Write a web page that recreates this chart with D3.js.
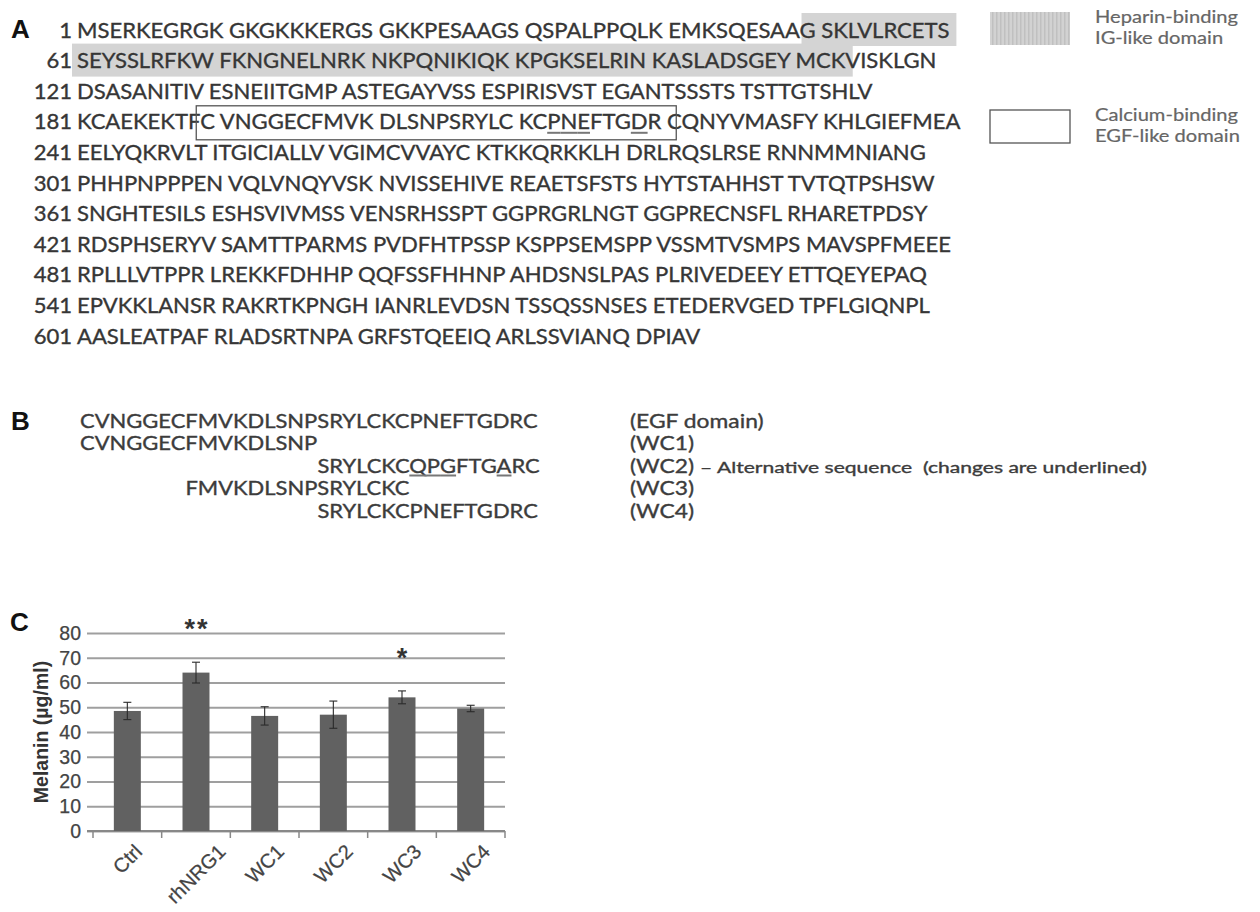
<!DOCTYPE html>
<html>
<head>
<meta charset="utf-8">
<script src="https://cdn.jsdelivr.net/npm/d3@7"></script>
<style>
  html, body { margin: 0; padding: 0; background: #fff; }
  svg { display: block; }
</style>
</head>
<body>
<svg id="fig" width="1260" height="912"></svg>
<script>
// ---------- Panel A: NRG1 protein sequence ----------
const seqStarts = [1, 61, 121, 181, 241, 301, 361, 421, 481, 541, 601];
const seqRows = [
  "MSERKEGRGK GKGKKKERGS GKKPESAAGS QSPALPPQLK EMKSQESAAG SKLVLRCETS",
  "SEYSSLRFKW FKNGNELNRK NKPQNIKIQK KPGKSELRIN KASLADSGEY MCKVISKLGN",
  "DSASANITIV ESNEIITGMP ASTEGAYVSS ESPIRISVST EGANTSSSTS TSTTGTSHLV",
  "KCAEKEKTFC VNGGECFMVK DLSNPSRYLC KCPNEFTGDR CQNYVMASFY KHLGIEFMEA",
  "EELYQKRVLT ITGICIALLV VGIMCVVAYC KTKKQRKKLH DRLRQSLRSE RNNMMNIANG",
  "PHHPNPPPEN VQLVNQYVSK NVISSEHIVE REAETSFSTS HYTSTAHHST TVTQTPSHSW",
  "SNGHTESILS ESHSVIVMSS VENSRHSSPT GGPRGRLNGT GGPRECNSFL RHARETPDSY",
  "RDSPHSERYV SAMTTPARMS PVDFHTPSSP KSPPSEMSPP VSSMTVSMPS MAVSPFMEEE",
  "RPLLLVTPPR LREKKFDHHP QQFSSFHHNP AHDSNSLPAS PLRIVEDEEY ETTQEYEPAQ",
  "EPVKKLANSR RAKRTKPNGH IANRLEVDSN TSSQSSNSES ETEDERVGED TPFLGIQNPL",
  "AASLEATPAF RLADSRTNPA GRFSTQEEIQ ARLSSVIANQ DPIAV"
];
const igDomain = [50, 114];          // heparin-binding Ig-like region (residues)
const egfDomain = [190, 221];        // calcium-binding EGF-like region (residues)
const egfUnderlined = [213, 214, 215, 219];
const legendItems = [
  { kind: "ig",  lines: ["Heparin-binding", "IG-like domain"] },
  { kind: "egf", lines: ["Calcium-binding", "EGF-like domain"] }
];

// ---------- Panel B: EGF-derived peptides ----------
const egfSeq = "CVNGGECFMVKDLSNPSRYLCKCPNEFTGDRC";
const peptides = [
  { seq: "CVNGGECFMVKDLSNPSRYLCKCPNEFTGDRC", offset: 0,  label: "(EGF domain)", note: "", marks: [] },
  { seq: "CVNGGECFMVKDLSNP",                 offset: 0,  label: "(WC1)", note: "", marks: [] },
  { seq: "SRYLCKCQPGFTGARC",                 offset: 16, label: "(WC2)", note: "\u2013 Alternative sequence  (changes are underlined)", marks: [7, 8, 9, 13] },
  { seq: "FMVKDLSNPSRYLCKC",                 offset: 7,  label: "(WC3)", note: "", marks: [] },
  { seq: "SRYLCKCPNEFTGDRC",                 offset: 16, label: "(WC4)", note: "", marks: [] }
];

// ---------- Panel C: melanin content ----------
const groups = ["Ctrl", "rhNRG1", "WC1", "WC2", "WC3", "WC4"];
const melanin = [48.5, 64, 46.5, 47, 54, 49.5];
const melaninErr = [3.5, 4.2, 3.7, 5.5, 2.6, 1.3];
const signif = ["", "**", "", "", "*", ""];
const yTicks = [0, 10, 20, 30, 40, 50, 60, 70, 80];

const svg = d3.select("#fig");
const SEQ_FONT = "Lato, 'Open Sans', 'Noto Sans', sans-serif";
const ARIAL = "'Liberation Sans', Arial, sans-serif";
const INK = "#363636";

// textures
const defs = svg.append("defs");
const pat = defs.append("pattern").attr("id", "vstripe")
  .attr("patternUnits", "userSpaceOnUse").attr("width", 4).attr("height", 4);
pat.append("rect").attr("width", 4).attr("height", 4).attr("fill", "#d2d2d2");
pat.append("rect").attr("width", 1.5).attr("height", 4).attr("fill", "#c0c0c0");

// panel letters
function panelLetter(t, x, y) {
  svg.append("text").attr("x", x).attr("y", y).text(t)
    .attr("font-family", ARIAL).attr("font-weight", "bold")
    .attr("font-size", 26).attr("fill", "#111");
}
panelLetter("A", 11, 38);
panelLetter("B", 11, 430);
panelLetter("C", 10, 631);

// sequence text helper: slightly heavier strokes
function seqText(sel, size, fill) {
  return sel.attr("font-family", SEQ_FONT).attr("font-size", size)
    .attr("fill", fill).attr("stroke", fill).attr("stroke-width", 0.35);
}

// ===== Panel A =====
const seqX = 77, numX = 72, rowY0 = 30, rowStep = 30.6, seqSize = 21;
const hlLayer = svg.append("g");
const rowLayer = svg.append("g");
const boxLayer = svg.append("g");

// measure a reference row to set the horizontal scale of the sequence font
const probe = rowLayer.append("text").attr("font-family", SEQ_FONT).attr("font-size", seqSize).text(seqRows[0]);
const sxA = (950 - seqX) / probe.node().getComputedTextLength();
probe.remove();

const rowEls = seqRows.map((s, i) => {
  const cy = rowY0 + i * rowStep;
  const g = rowLayer.append("g").attr("transform", `translate(0,${cy + 7.5})`);
  seqText(g.append("text"), seqSize, INK)
    .attr("transform", `translate(${numX},0) scale(${sxA},1)`)
    .attr("text-anchor", "end")
    .text(seqStarts[i]);
  const t = seqText(g.append("text"), seqSize, INK)
    .attr("transform", `translate(${seqX},0) scale(${sxA},1)`)
    .style("white-space", "pre")
    .text(s);
  return { el: t.node(), cy, len: s.length };
});

function rowOf(res) { return seqStarts.findIndex((s, i) => res >= s && (i === seqStarts.length - 1 || res < seqStarts[i + 1])); }
function strIndex(res, r) { const k = res - seqStarts[r]; return k + Math.floor(k / 10); }
function xAt(r, idx) {
  const row = rowEls[r];
  return seqX + sxA * (idx <= 0 ? 0 : row.el.getSubStringLength(0, Math.min(idx, row.len)));
}
function resLeft(res) { const r = rowOf(res); return xAt(r, strIndex(res, r)); }
function resRight(res) { const r = rowOf(res); return xAt(r, strIndex(res, r) + 1); }

// Ig-like domain highlight, row by row
(function () {
  const r0 = rowOf(igDomain[0]), r1 = rowOf(igDomain[1]);
  for (let r = r0; r <= r1; r++) {
    const x0 = r === r0 ? resLeft(igDomain[0]) + 2 : seqX - 5;
    const x1 = r === r1 ? (resLeft(igDomain[1]) + resRight(igDomain[1])) / 2 : xAt(r, rowEls[r].len) + 7;
    hlLayer.append("rect")
      .attr("x", x0).attr("y", rowEls[r].cy - 17)
      .attr("width", x1 - x0).attr("height", 33)
      .attr("fill", "#d4d4d4");
  }
})();

// EGF-like domain box
(function () {
  const r = rowOf(egfDomain[0]);
  const x0 = resLeft(egfDomain[0]) - 4;
  const x1 = (resLeft(egfDomain[1]) + resRight(egfDomain[1])) / 2 + 2;
  boxLayer.append("rect")
    .attr("x", x0).attr("y", rowEls[r].cy - 16)
    .attr("width", x1 - x0).attr("height", 34)
    .attr("fill", "none").attr("stroke", "#555").attr("stroke-width", 1.3);
  egfUnderlined.forEach(res => {
    boxLayer.append("line")
      .attr("x1", resLeft(res)).attr("x2", resRight(res))
      .attr("y1", rowEls[r].cy + 11).attr("y2", rowEls[r].cy + 11)
      .attr("stroke", "#777").attr("stroke-width", 2);
  });
})();

// legend
(function () {
  const lg = svg.append("g");
  const probeL = lg.append("text").attr("font-family", SEQ_FONT).attr("font-size", 17).text("Heparin-binding");
  const sxL = 143 / probeL.node().getComputedTextLength();
  probeL.remove();
  legendItems.forEach((it, i) => {
    const top = i === 0 ? 12 : 110;
    lg.append("rect").attr("x", 990).attr("y", top).attr("width", 80).attr("height", 33)
      .attr("fill", it.kind === "ig" ? "url(#vstripe)" : "#fff")
      .attr("stroke", it.kind === "ig" ? "none" : "#555").attr("stroke-width", 1.3);
    it.lines.forEach((ln, j) => {
      seqText(lg.append("text"), 17, "#666")
        .attr("stroke-width", 0.2)
        .attr("transform", `translate(1095,${top + 11 + j * 21}) scale(${sxL},1)`)
        .text(ln);
    });
  });
})();

// ===== Panel B =====
(function () {
  const bX = 80, bY0 = 421, bStep = 22.5, bSize = 19;
  const gB = svg.append("g");
  const ref = gB.append("text").attr("font-family", SEQ_FONT).attr("font-size", bSize).text(egfSeq);
  const sxB = (538 - bX) / ref.node().getComputedTextLength();
  const posB = i => bX + sxB * (i <= 0 ? 0 : ref.node().getSubStringLength(0, i));
  peptides.forEach((p, i) => {
    const base = bY0 + i * bStep + 6.5;
    const x0 = posB(p.offset);
    const t = seqText(gB.append("text"), bSize, "#3c3c3c")
      .attr("transform", `translate(${x0},${base}) scale(${sxB},1)`)
      .text(p.seq);
    p.marks.forEach(m => {
      const a = x0 + sxB * (m === 0 ? 0 : t.node().getSubStringLength(0, m));
      const b = x0 + sxB * t.node().getSubStringLength(0, m + 1);
      gB.append("line").attr("x1", a).attr("x2", b).attr("y1", base + 3).attr("y2", base + 3)
        .attr("stroke", "#777").attr("stroke-width", 2);
    });
    const lab = seqText(gB.append("text"), bSize, "#3c3c3c")
      .attr("transform", `translate(630,${base}) scale(${sxB * 1.04},1)`)
      .text(p.label);
    if (p.note) {
      const labEnd = 630 + sxB * 1.04 * lab.node().getComputedTextLength();
      seqText(gB.append("text"), 15.5, "#3c3c3c")
        .attr("x", labEnd + 6).attr("y", base)
        .attr("textLength", 1147 - labEnd - 6).attr("lengthAdjust", "spacingAndGlyphs")
        .style("white-space", "pre")
        .text(p.note);
    }
  });
  ref.remove();
})();

// ===== Panel C: bar chart =====
(function () {
  const x = d3.scaleBand().domain(groups).range([93, 505]).paddingInner(0.607).paddingOuter(0.3035);
  const y = d3.scaleLinear().domain([0, 80]).range([831, 633]);
  const gC = svg.append("g");

  gC.append("g").attr("transform", "translate(87,0)")
    .call(d3.axisLeft(y).tickValues(yTicks).tickSize(-418).tickPadding(6))
    .call(g => g.select(".domain").remove())
    .call(g => g.selectAll(".tick line").attr("stroke", "#9f9f9f").attr("stroke-width", 1.8))
    .call(g => g.selectAll(".tick text").attr("font-family", ARIAL).attr("font-size", 19.5)
      .attr("fill", "#444").attr("stroke", "#444").attr("stroke-width", 0.25));

  // category axis
  const xAxis = gC.append("g").attr("transform", `translate(0,${y(0)})`)
    .call(d3.axisBottom(x).tickSize(0).tickPadding(0));
  xAxis.select(".domain").attr("stroke", "#888").attr("stroke-width", 1.8).attr("d", `M87,0H505`);
  xAxis.selectAll(".tick text")
    .attr("font-family", ARIAL).attr("font-size", 20).attr("fill", "#444")
    .attr("stroke", "#444").attr("stroke-width", 0.25)
    .attr("text-anchor", "end").attr("dy", 0).attr("y", 0)
    .attr("transform", function () {
      const L = this.getComputedTextLength();
      return `translate(${L * 0.3536 + 5},${22}) rotate(-45)`;
    });
  const gap = (x.step() - x.bandwidth()) / 2;
  const bounds = groups.map(g => x(g) - gap).concat([x.range()[1]]);
  gC.append("g").selectAll("line").data(bounds).join("line")
    .attr("x1", d => d).attr("x2", d => d)
    .attr("y1", y(0)).attr("y2", y(0) + 7)
    .attr("stroke", "#888").attr("stroke-width", 1.5);

  const data = groups.map((g, i) => ({ g, v: melanin[i], e: melaninErr[i], s: signif[i] }));
  gC.append("g").selectAll("rect").data(data).join("rect")
    .attr("x", d => x(d.g)).attr("width", x.bandwidth())
    .attr("y", d => y(d.v)).attr("height", d => y(0) - y(d.v))
    .attr("fill", "#616161");

  const eb = gC.append("g").attr("stroke", "#2a2a2a").attr("stroke-width", 1.1);
  data.forEach(d => {
    const cx = x(d.g) + x.bandwidth() / 2;
    eb.append("line").attr("x1", cx).attr("x2", cx).attr("y1", y(d.v + d.e)).attr("y2", y(d.v - d.e));
    [d.v + d.e, d.v - d.e].forEach(v =>
      eb.append("line").attr("x1", cx - 4).attr("x2", cx + 4).attr("y1", y(v)).attr("y2", y(v)));
  });

  gC.append("g").selectAll("text").data(data.filter(d => d.s)).join("text")
    .attr("x", d => x(d.g) + x.bandwidth() / 2 + 1)
    .attr("y", d => y(d.v + d.e) - 24)
    .attr("text-anchor", "middle")
    .attr("font-family", ARIAL).attr("font-weight", "bold").attr("font-size", 27).attr("fill", "#333")
    .attr("letter-spacing", 2)
    .text(d => d.s);

  svg.append("text")
    .attr("transform", `translate(48,${(y(0) + y(80)) / 2}) rotate(-90)`)
    .attr("text-anchor", "middle")
    .attr("font-family", ARIAL).attr("font-weight", "bold").attr("font-size", 19.5).attr("fill", "#333")
    .text("Melanin (\u00b5g/ml)");
})();
</script>
</body>
</html>
